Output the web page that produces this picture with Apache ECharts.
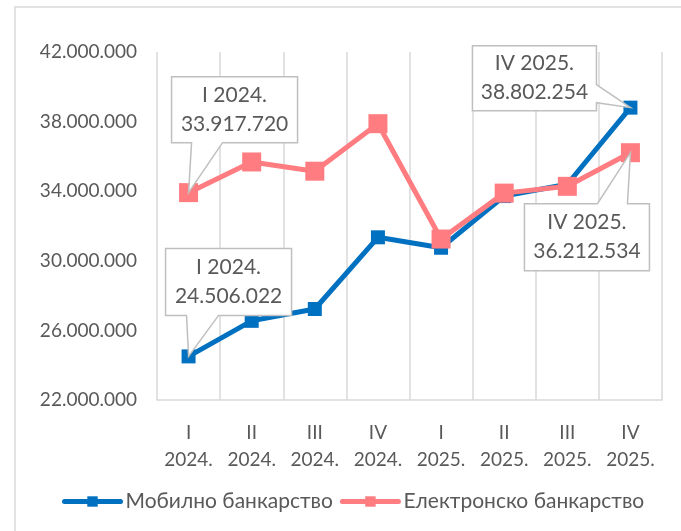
<!DOCTYPE html>
<html>
<head>
<meta charset="utf-8">
<script src="https://cdn.jsdelivr.net/npm/echarts@6/dist/echarts.min.js"></script>
<style>
html,body{margin:0;padding:0;background:#fff;}
#chart{width:681px;height:531px;}
</style>
</head>
<body>
<div id="chart"></div>
<script>
var categories = ['I\n2024.','II\n2024.','III\n2024.','IV\n2024.','I\n2025.','II\n2025.','III\n2025.','IV\n2025.'];
var mobileName = 'Мобилно банкарство';
var electronicName = 'Електронско банкарство';
var mobileValues = [24506022, 26550000, 27230000, 31350000, 30750000, 33720000, 34400000, 38802254];
var electronicValues = [33917720, 35680000, 35150000, 37880000, 31250000, 33890000, 34280000, 36212534];
var yMin = 22000000, yMax = 42000000, yStep = 4000000;

var FONT = 'Lato, "Noto Sans", sans-serif';
var TXT = '#595959';

function fmt(v){
  return String(Math.round(v)).replace(/\B(?=(\d{3})+(?!\d))/g, '.');
}

// callouts: series index, data index, title, box offsets (relative to point), wedge edge & range
var callouts = [
  {s:1, i:0, title:'I 2024.', box:[-17,109,-116,-50], edge:'bottom', w:[3,34]},
  {s:0, i:0, title:'I 2024.', box:[-23,103,-108,-41], edge:'bottom', w:[-2,30]},
  {s:0, i:7, title:'IV 2025.', box:[-158,-34,-62,3], edge:'right', w:[-23,-5]},
  {s:1, i:7, title:'IV 2025.', box:[-106,19,51,118], edge:'top', w:[-33,-3]}
];

var chart = echarts.init(document.getElementById('chart'), null, {renderer:'canvas'});
var option = {
  backgroundColor:'#fff',
  animation:false,
  textStyle:{fontFamily:FONT},
  grid:{left:157, right:19, top:52, bottom:131},
  legend:{
    left:57, top:486,
    itemWidth:56, itemHeight:13, itemGap:7,
    lineStyle:{width:5, cap:'round'},
    textStyle:{fontFamily:FONT, fontSize:21, color:TXT},
    data:[mobileName, electronicName]
  },
  xAxis:{
    type:'category', data:categories, boundaryGap:true,
    axisLine:{show:true, lineStyle:{color:'#d9d9d9', width:1.5}},
    axisTick:{show:false},
    splitLine:{show:true, interval:0, lineStyle:{color:'#d9d9d9', width:1.5}},
    axisLabel:{interval:0, margin:19, color:TXT, fontSize:19, lineHeight:27, fontFamily:FONT}
  },
  yAxis:{
    type:'value', min:yMin, max:yMax, interval:yStep,
    axisLine:{show:false}, axisTick:{show:false}, splitLine:{show:false},
    axisLabel:{margin:20, color:TXT, fontSize:19, fontFamily:FONT, formatter:function(v){return fmt(v);}}
  },
  series:[
    {name:mobileName, type:'line', data:mobileValues, color:'#0070C0',
     lineStyle:{width:5, color:'#0070C0'}, symbol:'rect', symbolSize:14,
     itemStyle:{color:'#0070C0'}, z:2},
    {name:electronicName, type:'line', data:electronicValues, color:'#FF7C80',
     lineStyle:{width:5, color:'#FF7C80'}, symbol:'rect', symbolSize:19,
     itemStyle:{color:'#FF7C80'}, z:3}
  ]
};
chart.setOption(option);

var seriesData = [mobileValues, electronicValues];
var graphics = [{
  type:'rect', z:0, silent:true,
  shape:{x:15, y:7, width:700, height:560},
  style:{fill:null, stroke:'#d9d9d9', lineWidth:1.5}
}];
callouts.forEach(function(c){
  var p = chart.convertToPixel({gridIndex:0}, [c.i, seriesData[c.s][c.i]]);
  var px = p[0], py = p[1];
  var L = px + c.box[0], R = px + c.box[1], T = py + c.box[2], B = py + c.box[3];
  var pts;
  if (c.edge === 'bottom') {
    pts = [[L,T],[R,T],[R,B],[px+c.w[1],B],[px,py],[px+c.w[0],B],[L,B]];
  } else if (c.edge === 'top') {
    pts = [[L,T],[px+c.w[0],T],[px,py],[px+c.w[1],T],[R,T],[R,B],[L,B]];
  } else {
    pts = [[L,T],[R,T],[R,py+c.w[0]],[px,py],[R,py+c.w[1]],[R,B],[L,B]];
  }
  graphics.push({
    type:'polygon', z:100, silent:true,
    shape:{points:pts},
    style:{fill:'#fff', stroke:'#bfbfbf', lineWidth:1.5}
  });
  graphics.push({
    type:'text', z:101, silent:true,
    x:(L+R)/2, y:(T+B)/2,
    style:{text:c.title + '\n' + fmt(seriesData[c.s][c.i]), fill:TXT,
           font:'21px ' + FONT, lineHeight:29, align:'center', verticalAlign:'middle'}
  });
});
chart.setOption({graphic:graphics});
</script>
</body>
</html>
